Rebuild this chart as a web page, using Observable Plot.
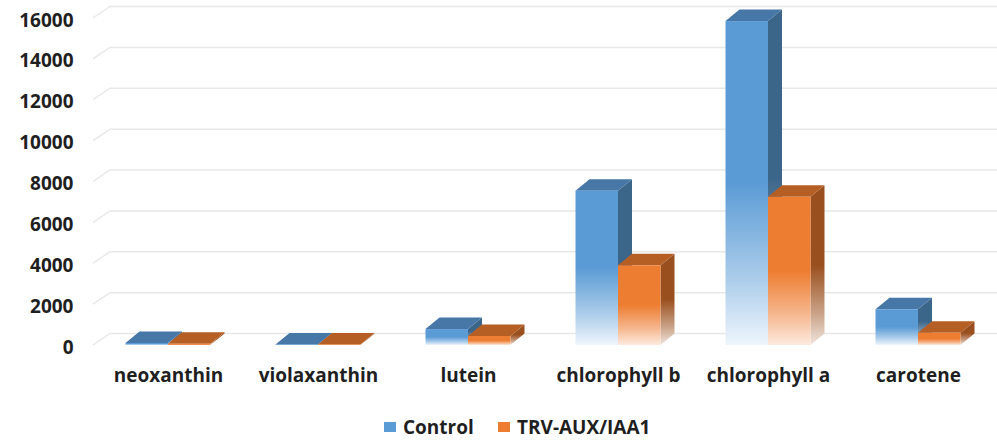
<!DOCTYPE html>
<html>
<head>
<meta charset="utf-8">
<script src="https://cdn.jsdelivr.net/npm/d3@7"></script>
<script src="https://cdn.jsdelivr.net/npm/@observablehq/plot@0.6"></script>
<style>
  body { margin: 0; background: #fff; font-family: "Open Sans", Lato, sans-serif; }
  #chart svg { display: block; }
  #legend { position: relative; height: 33px; font-size: 19px; font-weight: 700; color: #1f1f1f; }
  #legend .item { position: absolute; top: 4px; display: flex; align-items: center; white-space: nowrap; }
  #legend .sw { width: 12px; height: 10px; margin-right: 7px; }
</style>
</head>
<body>
<div id="chart"></div>
<div id="legend"></div>
<script>
// Pigment content per category, two treatments
const categories = ["neoxanthin", "violaxanthin", "lutein", "chlorophyll b", "chlorophyll a", "carotene"];
const seriesNames = ["Control", "TRV-AUX/IAA1"];
const controlValues = [100, 30, 780, 7550, 15850, 1750];
const treatedValues = [60, 30, 440, 3900, 7250, 600];
const yTicks = [0, 2000, 4000, 6000, 8000, 10000, 12000, 14000, 16000];

// face colours: front, top, side, faded bottom
const palette = {
  "Control":      {front: "#5b9bd5", top: "#4677a6", side: "#3b6589", fade: "#eef5fc"},
  "TRV-AUX/IAA1": {front: "#ed7d31", top: "#b65f25", side: "#9a4f1e", fade: "#fdeadf"}
};

const rows = categories.flatMap((c, i) => [
  {category: c, series: seriesNames[0], value: controlValues[i]},
  {category: c, series: seriesNames[1], value: treatedValues[i]}
]);

const depthX = 14, depthY = -11.5;   // extrusion of the 3D boxes
const barShare = 0.2833;             // width of one bar as a share of the category band

function gradient(defs, id, color, fade) {
  const lg = defs.append("linearGradient").attr("id", id)
    .attr("x1", 0).attr("y1", 0).attr("x2", 0).attr("y2", 1);
  lg.append("stop").attr("offset", 0).attr("stop-color", color);
  lg.append("stop").attr("offset", 0.5).attr("stop-color", color);
  lg.append("stop").attr("offset", 0.8).attr("stop-color", d3.interpolateRgb(color, fade)(0.55));
  lg.append("stop").attr("offset", 1).attr("stop-color", fade);
}

// Extruded bars: front face, top face and right side face
const bars3d = Plot.barY(rows, {
  x: "category", y1: 0, y2: "value",
  render(index, scales, values) {
    const g = d3.create("svg:g");
    const defs = g.append("defs");
    for (const s of seriesNames) {
      const key = s === seriesNames[0] ? "c" : "t";
      gradient(defs, "front-" + key, palette[s].front, palette[s].fade);
      gradient(defs, "side-" + key, palette[s].side, d3.interpolateRgb(palette[s].side, "#ffffff")(0.85));
    }
    const bw = scales.x.bandwidth();
    const w = bw * barShare;
    for (const i of index) {
      const d = rows[i];
      const key = d.series === seriesNames[0] ? "c" : "t";
      const cx = values.x[i] + bw / 2;
      const x0 = d.series === seriesNames[0] ? cx - w : cx;
      const x1 = x0 + w;
      const yb = values.y1[i], yt = values.y2[i];
      const col = palette[d.series];
      g.append("polygon")
        .attr("points", [[x1, yt], [x1 + depthX, yt + depthY], [x1 + depthX, yb + depthY], [x1, yb]].join(" "))
        .attr("fill", `url(#side-${key})`);
      g.append("polygon")
        .attr("points", [[x0, yt], [x0 + depthX, yt + depthY], [x1 + depthX, yt + depthY], [x1, yt]].join(" "))
        .attr("fill", col.top);
      g.append("rect")
        .attr("x", x0).attr("y", yt).attr("width", w).attr("height", Math.max(0.01, yb - yt))
        .attr("fill", `url(#front-${key})`);
    }
    return g.node();
  }
});

// Back-wall gridlines with the short floor diagonal at the left
const grid = Plot.ruleY(yTicks, {
  y: d => d,
  render(index, scales, values, dimensions) {
    const g = d3.create("svg:g").attr("fill", "none").attr("stroke", "#e8e8e8").attr("stroke-width", 1.5);
    for (const i of index) {
      const y = values.y[i];
      g.append("path").attr("d", `M${dimensions.marginLeft},${y}L${dimensions.marginLeft + 17},${y + depthY}H${dimensions.width}`);
    }
    return g.node();
  }
});

const chart = Plot.plot({
  width: 997,
  height: 410,
  marginLeft: 93,
  marginRight: 4,
  marginTop: 18,
  marginBottom: 65,
  style: {fontFamily: "'Open Sans', Lato, sans-serif", color: "#1f1f1f", background: "#fff", overflow: "visible"},
  x: {domain: categories, padding: 0, label: null},
  y: {domain: [0, 16000], label: null},
  marks: [
    grid,
    Plot.axisY(yTicks, {tickSize: 0, tickPadding: 20, fontSize: 19, fontWeight: 700, tickFormat: d3.format("d"), dy: 2, label: null}),
    Plot.axisX({tickSize: 0, tickPadding: 23, fontSize: 19, fontWeight: 700, label: null}),
    bars3d
  ]
});
document.getElementById("chart").append(chart);

// Legend below the plot
const legend = d3.select("#legend");
const legendLeft = [384, 498];
seriesNames.forEach((s, i) => {
  const item = legend.append("div").attr("class", "item").style("left", legendLeft[i] + "px");
  item.append("div").attr("class", "sw").style("background", palette[s].front);
  item.append("span").text(s);
});
</script>
</body>
</html>
